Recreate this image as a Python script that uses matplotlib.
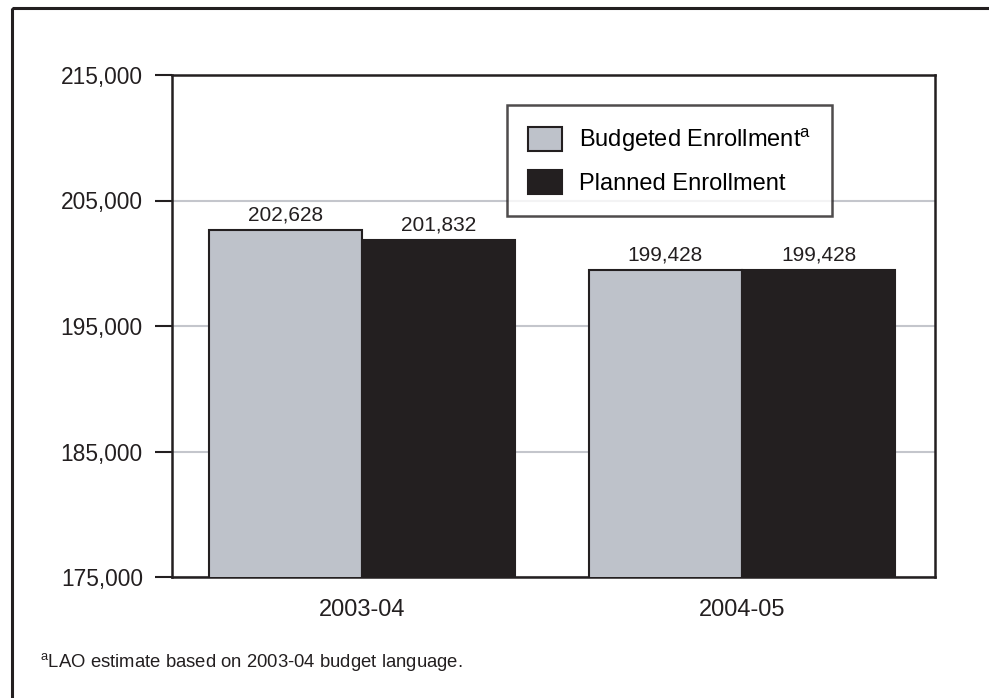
import matplotlib
matplotlib.use("Agg")
import matplotlib.pyplot as plt
import matplotlib.patches as mpatches
import numpy as np

plt.rcParams['font.family'] = ['Liberation Sans', 'DejaVu Sans']
plt.rcParams['mathtext.fontset'] = 'custom'
plt.rcParams['mathtext.rm'] = 'Liberation Sans'

# data
years = ["2003-04", "2004-05"]
budgeted = [202628, 199428]
planned = [201832, 199428]
yticks = [175000, 185000, 195000, 205000, 215000]

gray = "#bec2ca"
black = "#231f20"

fig = plt.figure(figsize=(9.89, 6.98), dpi=100)

# outer frame (right/bottom edges fall off the picture)
frame = mpatches.Rectangle((12 / 989, 1 - 8 / 698), 1.1, -1.1, transform=fig.transFigure,
                           fill=False, edgecolor=black, linewidth=2.2)
fig.patches.append(frame)

ax = fig.add_axes([172 / 989, 1 - 577 / 698, (935 - 172) / 989, (577 - 75) / 698])

x = np.arange(len(years))
w = 0.403
b1 = ax.bar(x - w / 2, budgeted, w, color=gray, edgecolor=black, linewidth=1.5, zorder=3)
b2 = ax.bar(x + w / 2, planned, w, color=black, edgecolor=black, linewidth=1.5, zorder=3)

for rects, vals in ((b1, budgeted), (b2, planned)):
    for r, v in zip(rects, vals):
        ax.text(r.get_x() + r.get_width() / 2, v + 450, f"{v:,}", ha="center", va="bottom",
                fontsize=15, color=black)

ax.set_ylim(175000, 215000)
ax.set_xlim(-0.5, 1.508)
ax.set_yticks(yticks)
ax.set_yticklabels([f"{t:,}" for t in yticks], fontsize=16.4, color=black)
ax.set_xticks(x)
ax.set_xticklabels(years, fontsize=17, color=black)
ax.tick_params(axis="y", length=12, width=1.5, pad=9, color=black)
ax.tick_params(axis="x", length=0, pad=16)
ax.yaxis.grid(True, color="#c4c6cc", linewidth=1.5, zorder=0)
for s in ax.spines.values():
    s.set_linewidth(1.8)
    s.set_color(black)

leg = ax.legend([b1, b2], ["Budgeted Enrollment$^{\\mathrm{a}}$", "Planned Enrollment"],
                loc="upper left", bbox_to_anchor=((507 - 172) / 763, (577 - 105) / 502),
                fontsize=17, frameon=True, fancybox=False, handlelength=1.45,
                handleheight=1.15, handletextpad=0.68, borderpad=0.9, labelspacing=0.68,
                borderaxespad=0)
leg.get_frame().set_edgecolor(black)
leg.get_frame().set_linewidth(1.8)
leg.set_zorder(5)

fig.text(40 / 989, 1 - 662 / 698, "$^{\\mathrm{a}}$LAO estimate based on 2003-04 budget language.",
         fontsize=13.3, color=black, va="center")

fig.savefig("out.png", dpi=100)
